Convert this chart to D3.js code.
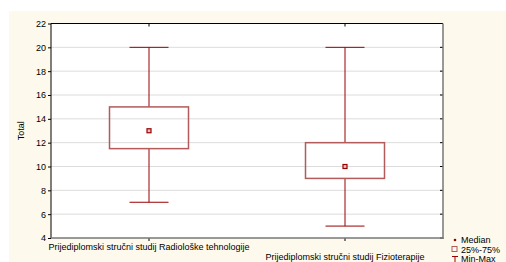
<!DOCTYPE html>
<html>
<head>
<meta charset="utf-8">
<script src="https://cdn.jsdelivr.net/npm/d3@7"></script>
<style>
body { margin: 0; background: #fff; }
text { font-family: "Liberation Sans", Arial, sans-serif; }
</style>
</head>
<body>
<svg id="chart" width="506" height="262"></svg>
<script>
// box data
var groups = ["Prijediplomski stručni studij Radiološke tehnologije", "Prijediplomski stručni studij Fizioterapije"];
var medians = [13, 10];
var q1s = [11.5, 9];
var q3s = [15, 12];
var mins = [7, 5];
var maxs = [20, 20];
var yTicks = [4, 6, 8, 10, 12, 14, 16, 18, 20, 22];

var svg = d3.select("#chart");
var darkRed = "#990000";
var fs = "9px";

// cream panel
svg.append("rect")
    .attr("x", 9).attr("y", 11)
    .attr("width", 497).attr("height", 251)
    .attr("fill", "#fdf9ec");

var plot = { l: 51, t: 23.5, r: 443, b: 238 };

var x = d3.scalePoint()
    .domain(groups)
    .range([plot.l, plot.r])
    .padding(0.5);

var y = d3.scaleLinear()
    .domain([4, 22])
    .range([plot.b, plot.t]);

svg.append("rect")
    .attr("x", plot.l).attr("y", plot.t)
    .attr("width", plot.r - plot.l).attr("height", plot.b - plot.t)
    .attr("fill", "#fff");

// grid
svg.selectAll(".grid")
    .data(yTicks.slice(1, -1))
    .enter()
    .append("line")
        .attr("x1", plot.l).attr("x2", plot.r)
        .attr("y1", function(d){ return y(d) }).attr("y2", function(d){ return y(d) })
        .attr("stroke", "#dcdcdc")
        .attr("stroke-width", 1);

// left axis
var yAxis = svg.append("g")
    .attr("transform", "translate(" + plot.l + ",0)")
    .call(d3.axisLeft(y).tickValues(yTicks).tickSize(3).tickPadding(2));
yAxis.select(".domain").remove();
yAxis.selectAll("text").attr("font-size", fs).attr("fill", "#000");

// right inner ticks
svg.selectAll(".rtick")
    .data(yTicks)
    .enter()
    .append("line")
        .attr("x1", plot.r - 3).attr("x2", plot.r)
        .attr("y1", function(d){ return y(d) }).attr("y2", function(d){ return y(d) })
        .attr("stroke", "#000");

// bottom axis ticks and labels
svg.selectAll(".btick")
    .data(groups)
    .enter()
    .append("line")
        .attr("x1", function(d){ return x(d) }).attr("x2", function(d){ return x(d) })
        .attr("y1", plot.b).attr("y2", plot.b + 3)
        .attr("stroke", "#000");
svg.selectAll(".ttick")
    .data(groups)
    .enter()
    .append("line")
        .attr("x1", function(d){ return x(d) }).attr("x2", function(d){ return x(d) })
        .attr("y1", plot.t).attr("y2", plot.t + 3)
        .attr("stroke", "#000");
svg.selectAll(".xlab")
    .data(groups)
    .enter()
    .append("text")
        .attr("x", function(d){ return x(d) })
        .attr("y", function(d, i){ return i == 0 ? 250 : 260 })
        .attr("text-anchor", "middle")
        .attr("font-size", fs)
        .text(function(d){ return d });

// frame: black left/top, gray right/bottom
svg.append("line").attr("x1", plot.l).attr("x2", plot.l).attr("y1", plot.t).attr("y2", plot.b).attr("stroke", "#000");
svg.append("line").attr("x1", plot.l).attr("x2", plot.r).attr("y1", plot.t).attr("y2", plot.t).attr("stroke", "#000");
svg.append("line").attr("x1", plot.r).attr("x2", plot.r).attr("y1", plot.t).attr("y2", plot.b + 1).attr("stroke", "#777").attr("stroke-width", 1.5);
svg.append("line").attr("x1", plot.l).attr("x2", plot.r + 0.5).attr("y1", plot.b).attr("y2", plot.b).attr("stroke", "#777").attr("stroke-width", 1.5);

// y title
svg.append("text")
    .attr("transform", "translate(24," + ((plot.t + plot.b) / 2) + ") rotate(-90)")
    .attr("text-anchor", "middle")
    .attr("font-size", fs)
    .text("Total");

// boxes
var boxW = 79, capW = 39;
var g = svg.selectAll(".box")
    .data(groups)
    .enter()
    .append("g");

g.append("line")
    .attr("x1", function(d){ return x(d) }).attr("x2", function(d){ return x(d) })
    .attr("y1", function(d, i){ return y(maxs[i]) }).attr("y2", function(d, i){ return y(q3s[i]) })
    .attr("stroke", darkRed);
g.append("line")
    .attr("x1", function(d){ return x(d) }).attr("x2", function(d){ return x(d) })
    .attr("y1", function(d, i){ return y(q1s[i]) }).attr("y2", function(d, i){ return y(mins[i]) })
    .attr("stroke", darkRed);
g.append("line")
    .attr("x1", function(d){ return x(d) - capW / 2 }).attr("x2", function(d){ return x(d) + capW / 2 })
    .attr("y1", function(d, i){ return y(maxs[i]) }).attr("y2", function(d, i){ return y(maxs[i]) })
    .attr("stroke", darkRed);
g.append("line")
    .attr("x1", function(d){ return x(d) - capW / 2 }).attr("x2", function(d){ return x(d) + capW / 2 })
    .attr("y1", function(d, i){ return y(mins[i]) }).attr("y2", function(d, i){ return y(mins[i]) })
    .attr("stroke", darkRed);
g.append("rect")
    .attr("x", function(d){ return x(d) - boxW / 2 })
    .attr("y", function(d, i){ return y(q3s[i]) })
    .attr("width", boxW)
    .attr("height", function(d, i){ return y(q1s[i]) - y(q3s[i]) })
    .attr("fill", "none")
    .attr("stroke", "#b35a5a")
    .attr("stroke-width", 1.5);
g.append("rect")
    .attr("x", function(d){ return x(d) - 2 })
    .attr("y", function(d, i){ return y(medians[i]) - 2 })
    .attr("width", 4).attr("height", 4)
    .attr("fill", "#e8c0c0")
    .attr("stroke", darkRed)
    .attr("stroke-width", 1.2);

// legend
var lg = svg.append("g");
lg.append("circle").attr("cx", 455).attr("cy", 240).attr("r", 1.3).attr("fill", darkRed);
lg.append("text").attr("x", 461).attr("y", 243).attr("font-size", fs).text("Median");
lg.append("rect").attr("x", 452).attr("y", 246.5).attr("width", 5).attr("height", 5).attr("fill", "none").attr("stroke", "#b35a5a");
lg.append("text").attr("x", 461).attr("y", 252.5).attr("font-size", fs).text("25%-75%");
lg.append("line").attr("x1", 452).attr("x2", 458).attr("y1", 256.5).attr("y2", 256.5).attr("stroke", darkRed);
lg.append("line").attr("x1", 455).attr("x2", 455).attr("y1", 256.5).attr("y2", 263).attr("stroke", darkRed);
lg.append("text").attr("x", 461).attr("y", 261.5).attr("font-size", fs).text("Min-Max");
</script>
</body>
</html>
